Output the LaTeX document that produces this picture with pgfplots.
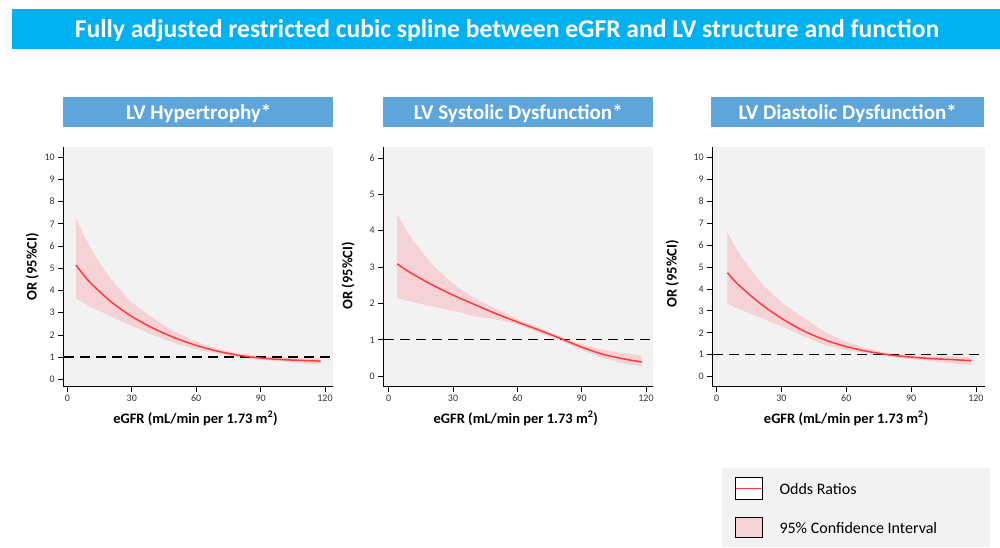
\documentclass[border=0pt]{standalone}
\usepackage{fontspec}
\setmainfont{Carlito}
\usepackage{pgfplots}
\pgfplotsset{compat=1.18}
\usepgfplotslibrary{fillbetween}
\definecolor{titleblue}{HTML}{00B0F0}
\definecolor{headblue}{HTML}{5DA5DA}
\definecolor{bggray}{HTML}{F2F2F2}
\definecolor{cipink}{HTML}{F4D2D6}
\definecolor{orred}{HTML}{FF3B3B}

\pgfplotstableread{
x or up lo
4   5.15 7.25 3.65
10  4.42 6.05 3.30
20  3.52 4.55 2.85
30  2.83 3.48 2.40
40  2.30 2.75 2.00
50  1.87 2.15 1.63
60  1.53 1.70 1.36
70  1.27 1.38 1.16
80  1.08 1.17 0.99
90  0.96 1.05 0.88
100 0.89 1.00 0.80
110 0.85 0.97 0.73
118 0.82 0.95 0.68
}\lvh
\pgfplotstableread{
x or up lo
4   3.09 4.45 2.15
10  2.85 3.85 2.06
20  2.52 3.10 1.92
30  2.23 2.55 1.80
40  1.97 2.15 1.65
50  1.72 1.85 1.56
60  1.49 1.57 1.42
70  1.27 1.33 1.20
80  1.04 1.09 0.98
90  0.80 0.88 0.72
100 0.60 0.73 0.50
110 0.47 0.63 0.35
118 0.39 0.57 0.27
}\lvsd
\pgfplotstableread{
x or up lo
5   4.74 6.60 3.35
10  4.20 5.70 3.10
20  3.35 4.35 2.70
30  2.66 3.40 2.30
40  2.10 2.70 1.85
50  1.68 2.05 1.45
60  1.37 1.60 1.22
70  1.15 1.28 1.05
80  0.99 1.07 0.93
90  0.89 0.98 0.80
100 0.82 0.95 0.70
110 0.77 0.93 0.60
118 0.73 0.91 0.53
}\lvdd

\pgfplotsset{
 panel/.style={
  scale only axis, height=240pt,
  axis x line*=bottom, axis y line*=left,
  axis line style={line width=0.9pt, -},
  axis background/.style={fill=bggray},
  tick align=outside, major tick length=5pt,
  tick style={line width=0.8pt, black},
  xtick={0,30,60,90,120},
  ticklabel style={font=\fontsize{10}{11}\selectfont, color=black!80},
  /pgf/number format/assume math mode=true,
  xlabel={eGFR (mL/min per 1.73 m\textsuperscript{2})},
  ylabel={OR (95\%CI)},
  every axis x label/.style={at={(axis description cs:0.5,0)}, anchor=center, yshift=-31.6pt, xshift=-2.5pt, font=\fontsize{14.5}{16}\selectfont\bfseries},
  anchor=south west,
 },
 ylab/.style 2 args={every axis y label/.style={at={(axis description cs:0,0.5)}, xshift=#1, yshift=#2, rotate=90, anchor=center, font=\fontsize{14.5}{16}\selectfont\bfseries}},
}

\begin{document}
\begin{tikzpicture}
\path (0pt,0pt) rectangle (1000pt,547pt);
% title
\fill[titleblue] (12.3pt,537.7pt) rectangle (1000pt,497.5pt);
\node[anchor=base, text=white, font=\fontsize{25.6}{28}\selectfont\bfseries] at (507pt,509.5pt) {Fully adjusted restricted cubic spline between eGFR and LV structure and function};
% headers
\fill[headblue] (63.3pt,450pt) rectangle (333pt,419.5pt);
\fill[headblue] (383.3pt,450pt) rectangle (653.3pt,419.5pt);
\fill[headblue] (711.3pt,450pt) rectangle (984pt,419.5pt);
\node[anchor=base, text=white, font=\fontsize{21}{24}\selectfont\bfseries] at (198.7pt,427.7pt) {LV Hypertrophy*};
\node[anchor=base, text=white, font=\fontsize{21}{24}\selectfont\bfseries] at (518.3pt,427.7pt) {LV Systolic Dysfunction*};
\node[anchor=base, text=white, font=\fontsize{21}{24}\selectfont\bfseries] at (847.7pt,427.7pt) {LV Diastolic Dysfunction*};

% panel 1
\begin{axis}[panel, ylab={-31pt}{0pt}, at={(63.3pt,160.3pt)}, width=269.4pt,
  xmin=-1.9, xmax=123.6, ymin=-0.33, ymax=10.47, ytick={0,1,...,10}]
  \addplot[draw=none, name path=upA, smooth, forget plot] table[x=x,y=up] {\lvh};
  \addplot[draw=none, name path=loA, smooth, forget plot] table[x=x,y=lo] {\lvh};
  \addplot[cipink, draw=none, forget plot] fill between[of=upA and loA];
  \addplot[black, line width=1.4pt, dash pattern=on 10pt off 6pt, forget plot] coordinates {(-1.5,1) (122.5,1)};
  \addplot[orred, line width=1.5pt, smooth] table[x=x,y=or] {\lvh};
\end{axis}
% panel 2
\begin{axis}[panel, ylab={-35.3pt}{-9pt}, at={(383.3pt,160.3pt)}, width=270pt,
  xmin=-2.5, xmax=123.4, ymin=-0.29, ymax=6.31, ytick={0,1,...,6}]
  \addplot[draw=none, name path=upB, smooth, forget plot] table[x=x,y=up] {\lvsd};
  \addplot[draw=none, name path=loB, smooth, forget plot] table[x=x,y=lo] {\lvsd};
  \addplot[cipink, draw=none, forget plot] fill between[of=upB and loB];
  \addplot[black, line width=1.4pt, dash pattern=on 10pt off 6pt, forget plot] coordinates {(-2,1) (122.5,1)};
  \addplot[orred, line width=1.5pt, smooth] table[x=x,y=or] {\lvsd};
\end{axis}
% panel 3
\begin{axis}[panel, ylab={-40pt}{-7pt}, at={(712.3pt,160.3pt)}, width=272.7pt,
  xmin=-2, xmax=124.2, ymin=-0.46, ymax=10.49, ytick={0,1,...,10}]
  \addplot[draw=none, name path=upC, smooth, forget plot] table[x=x,y=up] {\lvdd};
  \addplot[draw=none, name path=loC, smooth, forget plot] table[x=x,y=lo] {\lvdd};
  \addplot[cipink, draw=none, forget plot] fill between[of=upC and loC];
  \addplot[black, line width=1.4pt, dash pattern=on 10pt off 6pt, forget plot] coordinates {(-1.5,1) (123.5,1)};
  \addplot[orred, line width=1.5pt, smooth] table[x=x,y=or] {\lvdd};
\end{axis}

% legend
\fill[bggray] (722pt,79pt) rectangle (990pt,0pt);
\draw[black, line width=1pt, fill=white] (735.7pt,69.7pt) rectangle (762.7pt,48pt);
\draw[orred, line width=1pt] (736.2pt,58.7pt) -- (762.2pt,58.7pt);
\draw[black, line width=1pt, fill=cipink] (735.7pt,29.7pt) rectangle (762.7pt,9.7pt);
\node[anchor=base west, inner sep=0pt, font=\fontsize{16}{18}\selectfont] at (779.3pt,52.7pt) {Odds Ratios};
\node[anchor=base west, inner sep=0pt, font=\fontsize{16}{18}\selectfont] at (779.3pt,13.7pt) {95\% Confidence Interval};
\end{tikzpicture}
\end{document}
